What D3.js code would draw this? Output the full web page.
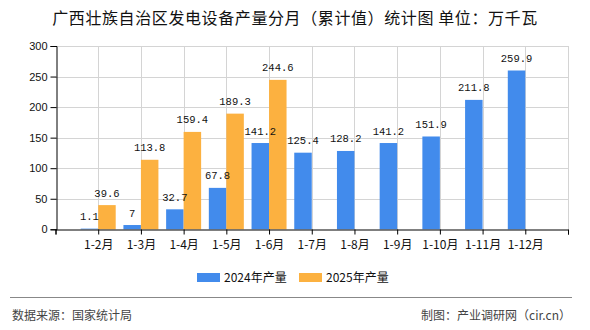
<!DOCTYPE html>
<html><head><meta charset="utf-8">
<script src="https://cdn.jsdelivr.net/npm/d3@7"></script>
<style>
body{margin:0;background:#fff;}
svg{display:block;}
text{font-family:"Noto Sans CJK SC","Liberation Sans",sans-serif;}
</style></head>
<body><svg id="c" width="590" height="330"></svg>
<script>
const categories = ["1-2月","1-3月","1-4月","1-5月","1-6月","1-7月","1-8月","1-9月","1-10月","1-11月","1-12月"];
const series2024 = [1.1,7,32.7,67.8,141.2,125.4,128.2,141.2,151.9,211.8,259.9];
const series2025 = [39.6,113.8,159.4,189.3,244.6,null,null,null,null,null,null];
const yTicks = [0,50,100,150,200,250,300];
const seriesNames = ["2024年产量","2025年产量"];
const colors = ["#428BEC","#FCB140"];
const titleText = "广西壮族自治区发电设备产量分月（累计值）统计图 单位：万千瓦";
const sourceText = "数据来源：国家统计局";
const creditText = "制图：产业调研网（cir.cn）";

const svg = d3.select("#c");
const L = 55.5, R = 568, T = 46, B = 229.3;
const x = d3.scaleLinear().domain([0, categories.length + 1]).range([L, R]);
const y = d3.scaleLinear().domain([0, 300]).range([B, T]);
const bw = 17.5;

// title
svg.append("text").attr("x", 295).attr("y", 24).attr("text-anchor", "middle")
  .attr("font-size", 16).attr("letter-spacing", 0.6).attr("fill", "#111").text(titleText);

// grid
const g = svg.append("g");
g.selectAll(".hg").data(yTicks.filter(d => d > 0)).join("line")
  .attr("x1", L).attr("x2", R).attr("y1", d => Math.round(y(d)) + 0.5).attr("y2", d => Math.round(y(d)) + 0.5)
  .attr("stroke", "#d4d4d4").attr("stroke-width", 1);
g.selectAll(".vg").data(d3.range(1, categories.length + 2)).join("line")
  .attr("x1", d => Math.round(x(d)) + 0.5).attr("x2", d => Math.round(x(d)) + 0.5)
  .attr("y1", T).attr("y2", B).attr("stroke", "#d4d4d4").attr("stroke-width", 1);

// bars
const idx = d3.range(categories.length);
svg.append("g").selectAll("rect").data(idx.filter(i => series2024[i] != null)).join("rect")
  .attr("x", i => x(i + 1) - bw).attr("width", bw)
  .attr("y", i => y(series2024[i])).attr("height", i => B - y(series2024[i]))
  .attr("fill", colors[0]);
svg.append("g").selectAll("rect").data(idx.filter(i => series2025[i] != null)).join("rect")
  .attr("x", i => x(i + 1)).attr("width", bw)
  .attr("y", i => y(series2025[i])).attr("height", i => B - y(series2025[i]))
  .attr("fill", colors[1]);

// value labels
const lab = svg.append("g").attr("font-size", 10.5).attr("text-anchor", "middle").attr("fill", "#111");
lab.selectAll(".a").data(idx.filter(i => series2024[i] != null)).join("text")
  .attr("x", i => x(i + 1) - bw / 2).attr("y", i => y(series2024[i]) - 8.5)
  .style("font-family", "'Liberation Mono','DejaVu Sans Mono',monospace")
  .text(i => series2024[i]);
lab.selectAll(".b").data(idx.filter(i => series2025[i] != null)).join("text")
  .attr("x", i => x(i + 1) + bw / 2).attr("y", i => y(series2025[i]) - 8.5)
  .style("font-family", "'Liberation Mono','DejaVu Sans Mono',monospace")
  .text(i => series2025[i]);

// y axis
const ya = svg.append("g").attr("transform", `translate(${Math.round(L)+0.5},0)`)
  .call(d3.axisLeft(y).tickValues(yTicks).tickSize(6).tickPadding(3));
ya.select(".domain").attr("stroke", "#000");
ya.selectAll("line").attr("stroke", "#000");
ya.selectAll("text").attr("font-size", 11).attr("fill", "#111")
  .style("font-family", "'Liberation Sans',Arial,sans-serif");

// x axis
const xa = svg.append("g").attr("transform", `translate(0,${Math.round(B)+0.5})`)
  .call(d3.axisBottom(x).tickValues(d3.range(0, categories.length + 2)).tickSize(5)
    .tickFormat(d => (d >= 1 && d <= categories.length) ? categories[d - 1] : ""));
xa.select(".domain").attr("stroke", "#000");
xa.selectAll("line").attr("stroke", "#000");
xa.selectAll("text").attr("font-size", 12).attr("fill", "#111").attr("dy", "0.95em");

// legend
const lg = svg.append("g");
const lx = [197, 299];
seriesNames.forEach((n, i) => {
  lg.append("rect").attr("x", lx[i]).attr("y", 273).attr("width", 23).attr("height", 9).attr("fill", colors[i]);
  lg.append("text").attr("x", lx[i] + 27).attr("y", 282).attr("font-size", 12).attr("fill", "#111").text(n);
});

// footer
svg.append("line").attr("x1", 10).attr("x2", 572).attr("y1", 297.5).attr("y2", 297.5)
  .attr("stroke", "#888").attr("stroke-width", 1);
svg.append("text").attr("x", 12).attr("y", 320).attr("font-size", 12).attr("fill", "#444").text(sourceText);
svg.append("text").attr("x", 571).attr("y", 320).attr("text-anchor", "end").attr("font-size", 12).attr("fill", "#444").text(creditText);
</script></body></html>
